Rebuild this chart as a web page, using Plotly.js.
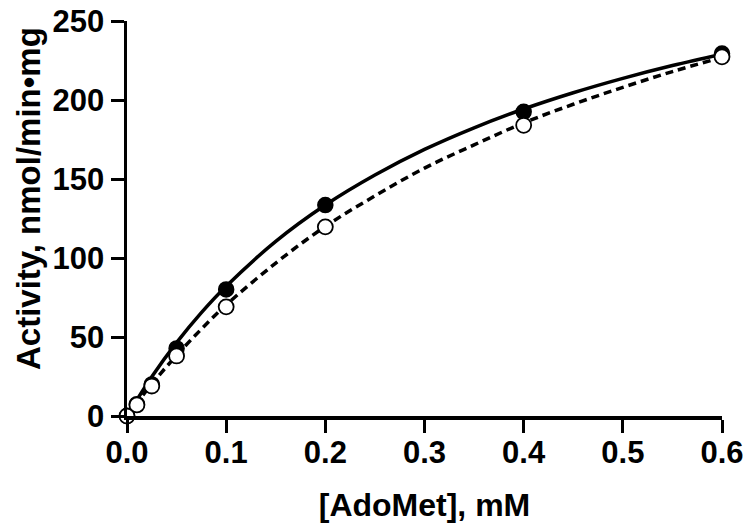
<!DOCTYPE html>
<html>
<head>
<meta charset="utf-8">
<script src="https://cdn.plot.ly/plotly-3.0.1.min.js"></script>
<style>html,body{margin:0;padding:0;background:#fff;}#chart{width:750px;height:531px;}</style>
</head>
<body>
<div id="chart"></div>
<script>
// Measured points
const xFilled = [0, 0.01, 0.025, 0.05, 0.1, 0.2, 0.4, 0.6];
const yFilled = [0, 7.5, 20, 42.8, 80.1, 133.5, 192.5, 229.4];
const xOpen = [0, 0.01, 0.025, 0.05, 0.1, 0.2, 0.4, 0.6];
const yOpen = [0, 7.0, 19.0, 38.0, 69.1, 119.7, 184.0, 227.3];

// Fitted curves
const xCurve = [0, 0.025, 0.05, 0.075, 0.1, 0.15, 0.2, 0.25, 0.3, 0.35, 0.4, 0.45, 0.5, 0.55, 0.6];
const ySolidCurve = [0, 24.8, 46.4, 65.4, 82.1, 110.5, 133.5, 152.5, 168.7, 182.4, 194.3, 204.6, 213.7, 221.8, 229.0];
const yDashedCurve = [0, 20.2, 38.4, 55.0, 70.3, 96.8, 120.0, 139.3, 156.9, 171.6, 185.5, 197.3, 208.0, 218.0, 227.0];

const xTickVals = [0, 0.1, 0.2, 0.3, 0.4, 0.5, 0.6];
const xTickText = ["0.0", "0.1", "0.2", "0.3", "0.4", "0.5", "0.6"];
const yTickVals = [0, 50, 100, 150, 200, 250];
const yTickText = ["0", "50", "100", "150", "200", "250"];

const xTitle = "[AdoMet], mM";
const yTitle = "Activity, nmol/min•mg";

const FONT = "Liberation Sans, Arial, sans-serif";

const traces = [
  {x: xCurve, y: ySolidCurve, mode: "lines", line: {color: "#000", width: 3.5, shape: "spline"}, hoverinfo: "skip", cliponaxis: false},
  {x: xCurve, y: yDashedCurve, mode: "lines", line: {color: "#000", width: 3.5, dash: "8px,5px", shape: "spline"}, hoverinfo: "skip", cliponaxis: false},
  {x: xFilled, y: yFilled, mode: "markers", marker: {symbol: "circle", size: 15, color: "#000", line: {color: "#000", width: 1.5}}, cliponaxis: false},
  {x: xOpen, y: yOpen, mode: "markers", marker: {symbol: "circle", size: 15, color: "#fff", line: {color: "#000", width: 1.8}}, cliponaxis: false}
];

const axisCommon = {
  showgrid: false, zeroline: false, showline: true, linecolor: "#000", linewidth: 3.5,
  ticks: "outside", ticklen: 13, tickwidth: 3, tickcolor: "#000",
  tickfont: {family: FONT, size: 31, color: "#000", weight: "bold"},
  layer: "above traces", fixedrange: true
};

const layout = {
  width: 750, height: 531,
  margin: {l: 127, r: 28, t: 21, b: 115},
  paper_bgcolor: "#fff", plot_bgcolor: "#fff",
  showlegend: false,
  font: {family: FONT, color: "#000"},
  xaxis: Object.assign({}, axisCommon, {
    range: [0, 0.6], tickvals: xTickVals, ticktext: xTickText, ticklabelstandoff: -7,
    title: {text: "<b>" + xTitle + "</b>", font: {family: FONT, size: 32, color: "#000"}, standoff: 26}
  }),
  yaxis: Object.assign({}, axisCommon, {
    range: [0, 250], tickvals: yTickVals, ticktext: yTickText
  }),
  annotations: [{
    text: "<b>" + yTitle + "</b>", textangle: -90, showarrow: false,
    xref: "paper", yref: "paper", x: (29 - 127) / 595, y: (416 - 199) / 395,
    xanchor: "center", yanchor: "middle",
    font: {family: FONT, size: 33, color: "#000"}
  }]
};

Plotly.newPlot("chart", traces, layout, {displayModeBar: false, staticPlot: true});
</script>
</body>
</html>
